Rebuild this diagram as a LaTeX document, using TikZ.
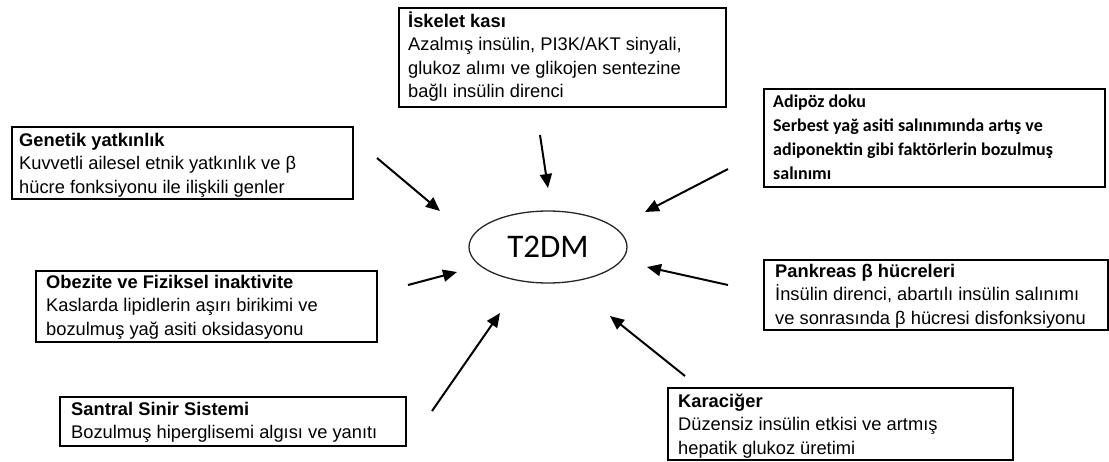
\documentclass[tikz,border=0pt]{standalone}
\usepackage{fontspec}
\setmainfont{Liberation Sans}
\newfontfamily\calib{Carlito}
\usetikzlibrary{arrows.meta,shapes.geometric}
\tikzset{
  boxst/.style={draw=black, line width=1.7pt, inner sep=0pt, anchor=north west},
  txt/.style={anchor=base west, inner sep=0pt, font=\fontsize{18.3}{23.5}\selectfont},
  txtc/.style={anchor=base west, inner sep=0pt, font=\calib\bfseries\fontsize{18}{24}\selectfont},
  arr/.style={draw=black, line width=2pt, -{Triangle[length=14pt,width=12pt]}},
}
\begin{document}
\begin{tikzpicture}[x=1pt,y=-1pt]
\useasboundingbox (0,0) rectangle (1109,461);
% central ellipse
\node[ellipse, draw=black!85, line width=1.3pt, minimum width=158pt, minimum height=72pt, inner sep=0pt, font=\calib\fontsize{33}{36}\selectfont] (t2) at (548,247) {T2DM};
% boxes
\node[boxst, minimum width=327pt, minimum height=99pt] (isk) at (398,7) {};
\node[txt] (iskt) at (408,27) {\parbox[t]{315pt}{\textbf{İskelet kası}\\Azalmış insülin, PI3K/AKT sinyali,\\glukoz alımı ve glikojen sentezine\\bağlı insülin direnci}};
\node[boxst, minimum width=341pt, minimum height=72pt] (gen) at (11,126) {};
\node[txt] (gent) at (19,146) {\parbox[t]{330pt}{\textbf{Genetik yatkınlık}\\Kuvvetli ailesel etnik yatkınlık ve β\\hücre fonksiyonu ile ilişkili genler}};
\node[boxst, minimum width=341pt, minimum height=98pt] (adi) at (763,88) {};
\node[txtc] (adit) at (773,107) {\parbox[t]{330pt}{Adipöz doku\\Serbest yağ asiti salınımında artış ve\\adiponektin gibi faktörlerin bozulmuş\\salınımı}};
\node[boxst, minimum width=341pt, minimum height=71pt] (obe) at (35,270) {};
\node[txt] (obet) at (46,288) {\parbox[t]{330pt}{\textbf{Obezite ve Fiziksel inaktivite}\\Kaslarda lipidlerin aşırı birikimi ve\\bozulmuş yağ asiti oksidasyonu}};
\node[boxst, minimum width=344pt, minimum height=70pt] (pan) at (763,259) {};
\node[txt] (pant) at (775,277) {\parbox[t]{335pt}{\textbf{Pankreas β hücreleri}\\İnsülin direnci, abartılı insülin salınımı\\ve sonrasında β hücresi disfonksiyonu}};
\node[boxst, minimum width=346pt, minimum height=49pt] (san) at (59,396) {};
\node[txt] (sant) at (71,415) {\parbox[t]{335pt}{\textbf{Santral Sinir Sistemi}\\Bozulmuş hiperglisemi algısı ve yanıtı}};
\node[boxst, minimum width=345pt, minimum height=72pt] (kar) at (667,387) {};
\node[txt] (kart) at (678,407) {\parbox[t]{335pt}{\textbf{Karaciğer}\\Düzensiz insülin etkisi ve artmış\\hepatik glukoz üretimi}};
% arrows
\coordinate (genA) at (377,158); \coordinate (genB) at (440,211);
\coordinate (iskA) at (540,135); \coordinate (iskB) at (548,188);
\coordinate (adiA) at (728,169); \coordinate (adiB) at (645,212);
\coordinate (obeA) at (408,285); \coordinate (obeB) at (457,272);
\coordinate (panA) at (728,285); \coordinate (panB) at (647,267);
\coordinate (sanA) at (432,411); \coordinate (sanB) at (500,313);
\coordinate (karA) at (685,376); \coordinate (karB) at (610,316);
\draw[arr] (genA) -- (genB);
\draw[arr] (iskA) -- (iskB);
\draw[arr] (adiA) -- (adiB);
\draw[arr] (obeA) -- (obeB);
\draw[arr] (panA) -- (panB);
\draw[arr] (sanA) -- (sanB);
\draw[arr] (karA) -- (karB);
\end{tikzpicture}
\end{document}
